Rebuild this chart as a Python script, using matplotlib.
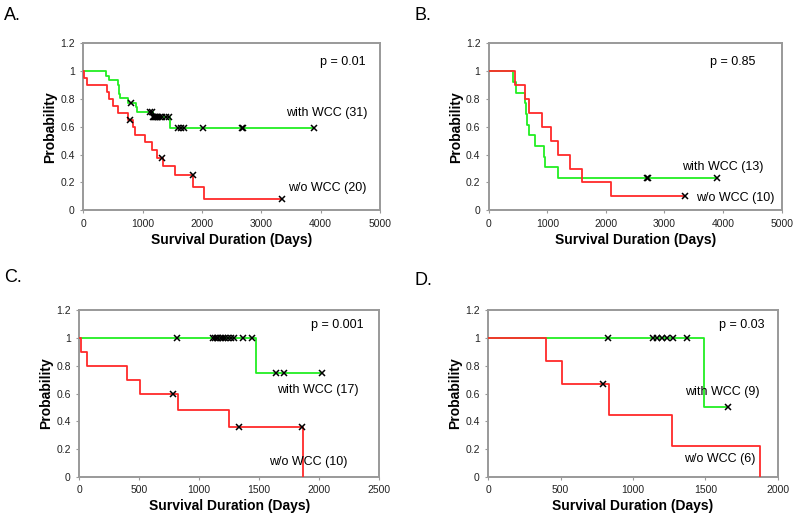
import numpy as np
import matplotlib.pyplot as plt

plt.rcParams['font.family'] = ['Liberation Sans', 'DejaVu Sans']

# ---- data (days, survival after each event) ----
# A
a_wcc_t = [390, 440, 590, 600, 605, 615, 750, 890, 905, 1180, 1470]
a_wcc_s = [0.968, 0.935, 0.903, 0.871, 0.839, 0.806, 0.774, 0.740, 0.707, 0.672, 0.588]
a_wcc_c = [804, 1132, 1165, 1180, 1195, 1210, 1225, 1245, 1265, 1290, 1320, 1400, 1450,
           1590, 1640, 1695, 2020, 2670, 2690, 3880]
a_no_t = [10, 60, 394, 439, 507, 591, 750, 845, 873, 1042, 1154, 1239, 1351, 1548, 1858, 2038]
a_no_s = [0.95, 0.90, 0.85, 0.80, 0.75, 0.70, 0.65, 0.596, 0.542, 0.488, 0.433, 0.379,
          0.316, 0.253, 0.169, 0.084]
a_no_c = [788, 1334, 1847, 3356]

# B
b_wcc_t = [415, 470, 620, 640, 660, 680, 790, 935, 955, 1180]
b_wcc_s = [0.923, 0.846, 0.769, 0.692, 0.615, 0.538, 0.462, 0.385, 0.308, 0.231]
b_wcc_c = [2700, 2720, 3900]
b_no_t = [440, 615, 690, 910, 1065, 1185, 1390, 1590, 2085]
b_no_s = [0.9, 0.8, 0.7, 0.6, 0.5, 0.4, 0.3, 0.2, 0.1]
b_no_c = [3356]

# C
c_wcc_t = [1477]
c_wcc_s = [0.75]
c_wcc_c = [818, 1116, 1130, 1145, 1160, 1178, 1198, 1218, 1240, 1262, 1287, 1366, 1443,
           1642, 1707, 2020]
c_no_t = [14, 65, 400, 510, 825, 1250, 1862]
c_no_s = [0.9, 0.8, 0.7, 0.6, 0.48, 0.36, 0.0]
c_no_c = [785, 1330, 1855]

# D
d_wcc_t = [1488]
d_wcc_s = [0.5]
d_wcc_c = [826, 1140, 1163, 1198, 1233, 1279, 1372, 1658]
d_no_t = [400, 512, 837, 1267, 1879]
d_no_s = [0.833, 0.667, 0.444, 0.222, 0.0]
d_no_c = [791]

panels = [
    dict(letter="A.", rect=[0.104, 0.598, 0.371, 0.319], xmax=5000, xstep=1000,
         wcc=(a_wcc_t, a_wcc_s, a_wcc_c), no=(a_no_t, a_no_s, a_no_c),
         p=("p = 0.01", 4377, 1.063), lw=("with WCC (31)", 4108, 0.697, "center"),
         lo=("w/o WCC (20)", 4108, 0.158, "center"), lpos=(0.005, 0.971)),
    dict(letter="B.", rect=[0.611, 0.598, 0.366, 0.319], xmax=5000, xstep=1000,
         wcc=(b_wcc_t, b_wcc_s, b_wcc_c), no=(b_no_t, b_no_s, b_no_c),
         p=("p = 0.85", 4164, 1.063), lw=("with WCC (13)", 3993, 0.309, "center"),
         lo=("w/o WCC (10)", 3532, 0.086, "left"), lpos=(0.518, 0.971)),
    dict(letter="C.", rect=[0.099, 0.088, 0.375, 0.319], xmax=2500, xstep=500,
         wcc=(c_wcc_t, c_wcc_s, c_wcc_c), no=(c_no_t, c_no_s, c_no_c),
         p=("p = 0.001", 2150, 1.092), lw=("with WCC (17)", 1992, 0.625, "center"),
         lo=("w/o WCC (10)", 1908, 0.108, "center"), lpos=(0.005, 0.470)),
    dict(letter="D.", rect=[0.610, 0.088, 0.3625, 0.319], xmax=2000, xstep=500,
         wcc=(d_wcc_t, d_wcc_s, d_wcc_c), no=(d_no_t, d_no_s, d_no_c),
         p=("p = 0.03", 1752, 1.092), lw=("with WCC (9)", 1614, 0.611, "center"),
         lo=("w/o WCC (6)", 1600, 0.129, "center"), lpos=(0.518, 0.463)),
]


def draw_curve(ax, times, surv, cens, color):
    t = np.array(times, dtype=float)
    s = np.array(surv, dtype=float)
    end = max(t[-1], max(cens))
    x = np.concatenate([[0], t, [end]])
    y = np.concatenate([[1.0], s, [s[-1]]])
    ax.step(x, y, where="post", color=color, lw=1.3, zorder=3)
    levels = np.concatenate([[1.0], s])
    cy = levels[np.searchsorted(t, cens, side="right")]
    ax.plot(cens, cy, ls="none", marker="x", ms=5, mew=1.1, color="black", zorder=4)


fig = plt.figure(figsize=(8, 5.23), dpi=100)

for pn in panels:
    ax = fig.add_axes(pn["rect"])
    draw_curve(ax, *pn["wcc"], color="#22ee22")
    draw_curve(ax, *pn["no"], color="#ff2a2a")
    ax.set_xlim(0, pn["xmax"])
    ax.set_ylim(0, 1.2)
    ax.set_xticks(np.arange(0, pn["xmax"] + 1, pn["xstep"]))
    ax.set_yticks([0, 0.2, 0.4, 0.6, 0.8, 1.0, 1.2])
    ax.set_yticklabels(["0", "0.2", "0.4", "0.6", "0.8", "1", "1.2"])
    ax.tick_params(labelsize=7.5, length=2, color="#999999", pad=4, labelcolor="#222222")
    for sp in ax.spines.values():
        sp.set_color("#999999")
        sp.set_linewidth(1.4)
    ax.set_xlabel("Survival Duration (Days)", fontsize=10, fontweight="bold", labelpad=3)
    ax.set_ylabel("Probability", fontsize=10, fontweight="bold", labelpad=2)
    txt, x, y = pn["p"]
    ax.text(x, y, txt, fontsize=9, ha="center", va="center")
    for txt, x, y, ha in (pn["lw"], pn["lo"]):
        ax.text(x, y, txt, fontsize=9, ha=ha, va="center")
    fig.text(pn["lpos"][0], pn["lpos"][1], pn["letter"], fontsize=13, ha="left", va="center")

fig.savefig("out.png", dpi=100)
